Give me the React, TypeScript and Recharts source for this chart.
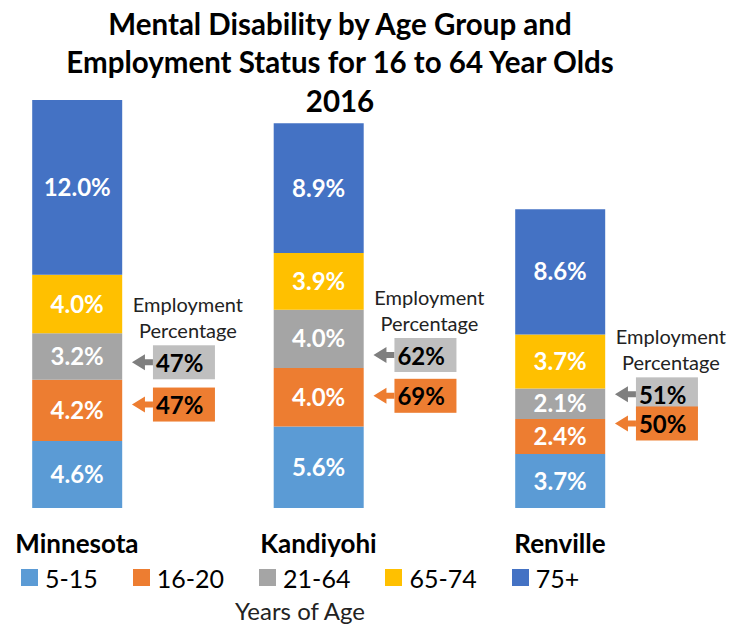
import { Bar, BarChart, LabelList, Legend, ReferenceDot, XAxis, YAxis } from "recharts";

const counties = ["Minnesota", "Kandiyohi", "Renville"];
const ageGroups = ["5-15", "16-20", "21-64", "65-74", "75+"];
const age5to15 = [4.6, 5.6, 3.7];
const age16to20 = [4.2, 4.0, 2.4];
const age21to64 = [3.2, 4.0, 2.1];
const age65to74 = [4.0, 3.9, 3.7];
const age75plus = [12.0, 8.9, 8.6];

// employment percentage shown in the callouts
const employed21to64 = [47, 62, 51];
const employed16to20 = [47, 69, 50];
// height (chart units) the callout arrows point at, hand placed in the original
const callout21to64At = [10.0, 10.5, 7.8];
const callout16to20At = [7.1, 7.7, 5.8];

const colors = ["#5b9bd5", "#ed7d31", "#a5a5a5", "#ffc000", "#4472c4"];
const series = [age5to15, age16to20, age21to64, age65to74, age75plus];

const data = counties.map((name, i) => {
  const row: Record<string, number | string> = { pos: i, name };
  ageGroups.forEach((g, k) => (row[g] = series[k][i]));
  return row;
});

const FONT = "Lato, 'Open Sans', sans-serif";
const BAR = 90;

function CountyTick({ x, y, payload }: any) {
  return (
    <text x={x} y={y} dy={45} textAnchor="middle" fontSize={26} fontWeight={700} fill="#000" fontFamily={FONT}>
      {counties[payload.value]}
    </text>
  );
}

function Callout({ cx, cy, value, box, arrow, heading }: any) {
  const tip = cx + BAR / 2 + 10;
  const bx = tip + 21;
  const d = `M${tip},${cy} L${tip + 13},${cy - 8} L${tip + 13},${cy - 3} L${bx},${cy - 3} L${bx},${cy + 3} L${tip + 13},${cy + 3} L${tip + 13},${cy + 8} Z`;
  return (
    <g fontFamily={FONT}>
      {heading && (
        <text textAnchor="middle" fontSize={20} fill="#222">
          <tspan x={tip + 56} y={cy - 50}>Employment</tspan>
          <tspan x={tip + 56} y={cy - 24}>Percentage</tspan>
        </text>
      )}
      <path d={d} fill={arrow} />
      <rect x={bx} y={cy - 17} width={62} height={34} fill={box} />
      <text x={bx + 3} y={cy} dominantBaseline="central" fontSize={24} fontWeight={700} fill="#000">
        {value}%
      </text>
    </g>
  );
}

function AgeLegend({ payload }: any) {
  const items = ageGroups.map((g) => (payload || []).find((p: any) => p.value === g)).filter(Boolean);
  return (
    <div style={{ fontFamily: FONT, position: "relative", width: 732, height: 60 }}>
      <div style={{ display: "flex", alignItems: "center", paddingLeft: 21, height: 26 }}>
        {items.map((p: any) => (
          <div key={p.value} style={{ display: "flex", alignItems: "center", marginRight: 35 }}>
            <span style={{ width: 17, height: 17, background: p.color, marginRight: 7 }} />
            <span style={{ fontSize: 25, lineHeight: "26px", color: "#000" }}>{p.value}</span>
          </div>
        ))}
      </div>
      <div style={{ position: "absolute", left: 300, top: 34, transform: "translateX(-50%)", fontSize: 24, lineHeight: "24px", color: "#222", whiteSpace: "nowrap" }}>
        Years of Age
      </div>
    </div>
  );
}

export default function App() {
  return (
    <div style={{ position: "fixed", left: 0, top: 0, width: 732, height: 625, background: "#fff", fontFamily: FONT }}>
      <div style={{ position: "absolute", left: 0, top: 4.5, width: 680, textAlign: "center", fontSize: 29.5, lineHeight: "38.5px", fontWeight: 700, color: "#000" }}>
        Mental Disability by Age Group and
        <br />
        Employment Status for 16 to 64 Year Olds
        <br />
        2016
      </div>
      <BarChart width={732} height={625} data={data} margin={{ top: 100, right: 3, bottom: 57, left: 4.5 }}>
        <XAxis
          dataKey="pos"
          type="number"
          domain={[-0.3, 2.7]}
          ticks={[0, 1, 2]}
          interval={0}
          axisLine={false}
          tickLine={false}
          tickSize={0}
          tickMargin={0}
          height={60}
          tick={<CountyTick />}
        />
        <YAxis hide domain={[0, 28]} />
        {ageGroups.map((g, k) => (
          <Bar key={g} dataKey={g} stackId="a" fill={colors[k]} barSize={BAR} isAnimationActive={false}>
            <LabelList
              dataKey={g}
              position="center"
              fill="#fff"
              fontSize={24}
              fontWeight={700}
              fontFamily={FONT}
              formatter={(v: any) => `${Number(v).toFixed(1)}%`}
            />
          </Bar>
        ))}
        {counties.map((c, i) => (
          <ReferenceDot
            key={c + "-21"}
            x={i}
            y={callout21to64At[i]}
            r={0}
            shape={(p: any) => <Callout cx={p.cx} cy={p.cy} value={employed21to64[i]} box="#bfbfbf" arrow="#7f7f7f" heading />}
          />
        ))}
        {counties.map((c, i) => (
          <ReferenceDot
            key={c + "-16"}
            x={i}
            y={callout16to20At[i]}
            r={0}
            shape={(p: any) => <Callout cx={p.cx} cy={p.cy} value={employed16to20[i]} box="#ed7d31" arrow="#ed7d31" />}
          />
        ))}
        <Legend
          layout="horizontal"
          verticalAlign="middle"
          align="center"
          wrapperStyle={{ left: 0, top: 564.5, width: 732 }}
          content={<AgeLegend />}
        />
      </BarChart>
    </div>
  );
}
